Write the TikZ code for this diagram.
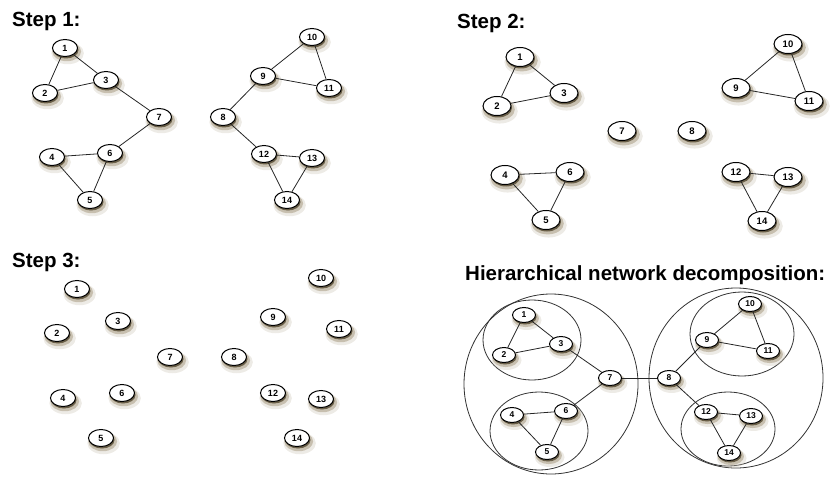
\documentclass[tikz,border=0pt]{standalone}
\usepackage{fontspec}
\setmainfont{Liberation Sans}
\usetikzlibrary{shapes.geometric,shadows}
\definecolor{shadowbrown}{HTML}{6E5A2E}

\begin{document}
\begin{tikzpicture}[x=1pt,y=-1pt,
		vertex/.style={ellipse,draw=black,line width=1pt,fill=white,inner sep=0pt,
			minimum width=25pt,minimum height=17pt,font=\fontsize{9}{10}\selectfont\bfseries,
			general shadow={shadow xshift=2pt,shadow yshift=-4pt,shadow scale=1.3,fill=shadowbrown!35,opacity=0.35},
			general shadow={shadow xshift=1.5pt,shadow yshift=-3pt,shadow scale=1.15,fill=shadowbrown!70,opacity=0.45},
			general shadow={shadow xshift=1pt,shadow yshift=-2pt,fill=shadowbrown!60!black,opacity=0.7}},
		big vertex/.style={vertex,minimum width=28pt,minimum height=19pt,font=\fontsize{9.5}{11}\selectfont\bfseries},
		small vertex/.style={vertex,minimum width=23pt,minimum height=15pt,font=\fontsize{8.5}{10}\selectfont\bfseries},
		title/.style={anchor=base west,inner sep=0pt,font=\fontsize{20.5}{24}\selectfont\bfseries},
		link/.style={draw=black!85,line width=0.8pt},
		group/.style={draw=black!80,line width=0.8pt}]
	\useasboundingbox (0,0) rectangle (834,481);
	% step 1
	\node[title] (t1) at (12,27) {Step 1:};
	\node[vertex] (a1) at (65,48) {1};
	\node[vertex] (a2) at (45,93) {2};
	\node[vertex] (a3) at (106,80) {3};
	\node[vertex] (a4) at (52,157) {4};
	\node[vertex] (a5) at (90,200) {5};
	\node[vertex] (a6) at (110,153) {6};
	\node[vertex] (a7) at (159,117) {7};
	\node[vertex] (a8) at (223,117) {8};
	\node[vertex] (a9) at (263,76) {9};
	\node[vertex] (a10) at (312,37) {10};
	\node[vertex] (a11) at (329,88) {11};
	\node[vertex] (a12) at (264,154) {12};
	\node[vertex] (a13) at (312,158) {13};
	\node[vertex] (a14) at (287,200) {14};
	\draw[link] (a1) -- (a2) -- (a3) -- (a1);
	\draw[link] (a4) -- (a5) -- (a6) -- (a4);
	\draw[link] (a3) -- (a7) -- (a6);
	\draw[link] (a9) -- (a10) -- (a11) -- (a9);
	\draw[link] (a12) -- (a13) -- (a14) -- (a12);
	\draw[link] (a9) -- (a8) -- (a12);
	% step 2
	\node[title] (t2) at (457,29) {Step 2:};
	\node[big vertex] (b1) at (520,57) {1};
	\node[big vertex] (b2) at (497,106) {2};
	\node[big vertex] (b3) at (564,93) {3};
	\node[big vertex] (b4) at (505,175) {4};
	\node[big vertex] (b5) at (546,220) {5};
	\node[big vertex] (b6) at (570,172) {6};
	\node[big vertex] (b7) at (622,131) {7};
	\node[big vertex] (b8) at (692,131) {8};
	\node[big vertex] (b9) at (736,88) {9};
	\node[big vertex] (b10) at (788,44) {10};
	\node[big vertex] (b11) at (809,101) {11};
	\node[big vertex] (b12) at (736,172) {12};
	\node[big vertex] (b13) at (788,177) {13};
	\node[big vertex] (b14) at (762,221) {14};
	\draw[link] (b1) -- (b2) -- (b3) -- (b1);
	\draw[link] (b4) -- (b5) -- (b6) -- (b4);
	\draw[link] (b9) -- (b10) -- (b11) -- (b9);
	\draw[link] (b12) -- (b13) -- (b14) -- (b12);
	% step 3
	\node[title] (t3) at (12,267) {Step 3:};
	\node[vertex] (c1) at (77,289) {1};
	\node[vertex] (c2) at (57,333) {2};
	\node[vertex] (c3) at (118,321) {3};
	\node[vertex] (c4) at (63,398) {4};
	\node[vertex] (c5) at (101,438) {5};
	\node[vertex] (c6) at (122,393) {6};
	\node[vertex] (c7) at (170,357) {7};
	\node[vertex] (c8) at (234,357) {8};
	\node[vertex] (c9) at (273,317) {9};
	\node[vertex] (c10) at (321,278) {10};
	\node[vertex] (c11) at (339,329) {11};
	\node[vertex] (c12) at (273,393) {12};
	\node[vertex] (c13) at (321,399) {13};
	\node[vertex] (c14) at (297,438) {14};
	% hierarchical decomposition
	\node[title] (t4) at (465,280) {Hierarchical network decomposition:};
	\draw[group] (551,384) ellipse [x radius=87pt,y radius=90pt];
	\draw[group] (532,340) ellipse [x radius=49pt,y radius=40pt];
	\draw[group] (539,431) ellipse [x radius=49pt,y radius=39pt];
	\draw[group] (736,378) ellipse [x radius=87pt,y radius=90pt];
	\draw[group] (742,334) ellipse [x radius=52pt,y radius=42pt];
	\draw[group] (728,429) ellipse [x radius=47pt,y radius=37pt];
	\node[small vertex] (h1) at (524,315) {1};
	\node[small vertex] (h2) at (504,355) {2};
	\node[small vertex] (h3) at (561,344) {3};
	\node[small vertex] (h4) at (512,415) {4};
	\node[small vertex] (h5) at (547,452) {5};
	\node[small vertex] (h6) at (566,411) {6};
	\node[small vertex] (h7) at (610,378) {7};
	\node[small vertex] (h8) at (669,378) {8};
	\node[small vertex] (h9) at (707,340) {9};
	\node[small vertex] (h10) at (750,304) {10};
	\node[small vertex] (h11) at (768,351) {11};
	\node[small vertex] (h12) at (706,412) {12};
	\node[small vertex] (h13) at (751,416) {13};
	\node[small vertex] (h14) at (729,453) {14};
	\draw[link] (h1) -- (h2) -- (h3) -- (h1);
	\draw[link] (h4) -- (h5) -- (h6) -- (h4);
	\draw[link] (h3) -- (h7) -- (h6);
	\draw[link] (h7) -- (h8);
	\draw[link] (h9) -- (h10) -- (h11) -- (h9);
	\draw[link] (h12) -- (h13) -- (h14) -- (h12);
	\draw[link] (h9) -- (h8) -- (h12);
\end{tikzpicture}
\end{document}
